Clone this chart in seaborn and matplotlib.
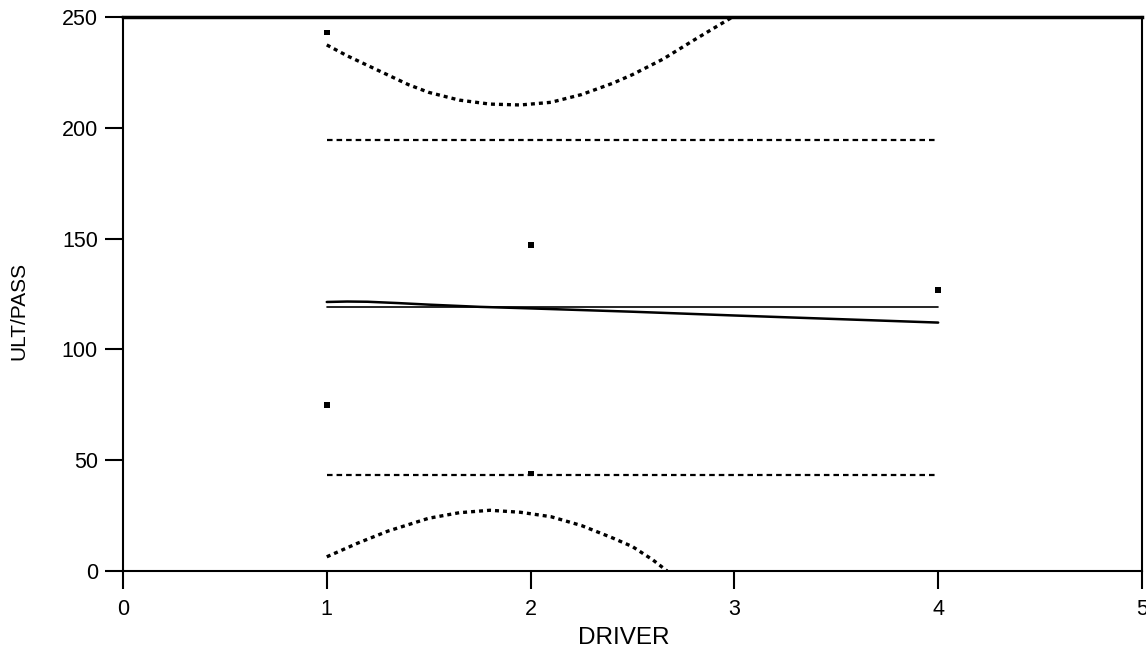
import matplotlib
matplotlib.use("Agg")
import matplotlib.pyplot as plt
import seaborn as sns

sns.set_theme(style="white")
plt.rcParams["font.family"] = ["Liberation Sans", "DejaVu Sans"]
plt.rcParams["text.color"] = "black"
plt.rcParams["axes.labelcolor"] = "black"
plt.rcParams["xtick.color"] = "black"
plt.rcParams["ytick.color"] = "black"

# Observations
driver = [1, 1, 2, 2, 4]
ult_pass = [243, 75, 147, 44, 127]

# Mean line and +/- limits
span_x = [1, 4]
mean_y = [119, 119]
upper_limit = [194.5, 194.5]
lower_limit = [43.3, 43.3]

# Fitted curve
fit_x = [1.0, 1.1, 1.2, 1.35, 1.5, 1.75, 2.0, 2.5, 3.0, 3.5, 4.0]
fit_y = [121.4, 121.6, 121.5, 120.9, 120.2, 119.2, 118.5, 117.0, 115.3, 113.7, 112.1]

# Confidence band around the fit
band_hi_x = [1.0, 1.1, 1.25, 1.4, 1.5, 1.65, 1.8, 1.95, 2.1, 2.25, 2.4, 2.5, 2.65, 2.8, 3.0]
band_hi_y = [237.4, 232.5, 226.0, 219.5, 216.0, 212.5, 210.7, 210.3, 211.5, 215.0,
             220.0, 224.0, 231.0, 239.5, 250.5]
band_lo_x = [1.0, 1.15, 1.3, 1.5, 1.65, 1.8, 1.95, 2.1, 2.25, 2.4, 2.5, 2.6, 2.67]
band_lo_y = [6.4, 12.5, 18.0, 23.8, 26.3, 27.4, 26.5, 24.5, 20.5, 15.0, 11.0, 5.0, 0.0]

fig = plt.figure(figsize=(11.46, 6.49), dpi=100)
ax = fig.add_axes([0.1073, 0.1202, 0.8892, 0.8536])

k = dict(ax=ax, color="black", legend=False)
sns.lineplot(x=span_x, y=mean_y, lw=1.2, **k)
sns.lineplot(x=span_x, y=upper_limit, lw=1.6, linestyle=(0, (2.5, 1.8)), **k)
sns.lineplot(x=span_x, y=lower_limit, lw=1.6, linestyle=(0, (2.5, 1.8)), **k)
sns.lineplot(x=fit_x, y=fit_y, lw=1.8, **k)
sns.lineplot(x=band_hi_x, y=band_hi_y, lw=2.4, linestyle=(0, (1.2, 1.2)), **k)
sns.lineplot(x=band_lo_x, y=band_lo_y, lw=2.4, linestyle=(0, (1.2, 1.2)), **k)
sns.scatterplot(x=driver, y=ult_pass, marker="s", s=18, color="black",
                edgecolor="none", ax=ax, zorder=5)

ax.set_xlim(0, 5)
ax.set_ylim(0, 250)
ax.set_xticks([0, 1, 2, 3, 4, 5])
ax.set_yticks([0, 50, 100, 150, 200, 250])
ax.set_xlabel("DRIVER", fontsize=17.5)
ax.set_ylabel("ULT/PASS", fontsize=15)
ax.xaxis.set_label_coords(0.491, -0.101)
ax.yaxis.set_label_coords(-0.093, 0.469)
ax.tick_params(axis="both", which="major", direction="out", length=13,
               width=1.5, labelsize=15.5, bottom=True, left=True)
ax.tick_params(axis="x", pad=7)
ax.tick_params(axis="y", pad=5)
for s in ax.spines.values():
    s.set_color("black")
    s.set_linewidth(1.5)
ax.spines["top"].set_linewidth(2.5)

fig.savefig("out.png", dpi=100, facecolor="white")
